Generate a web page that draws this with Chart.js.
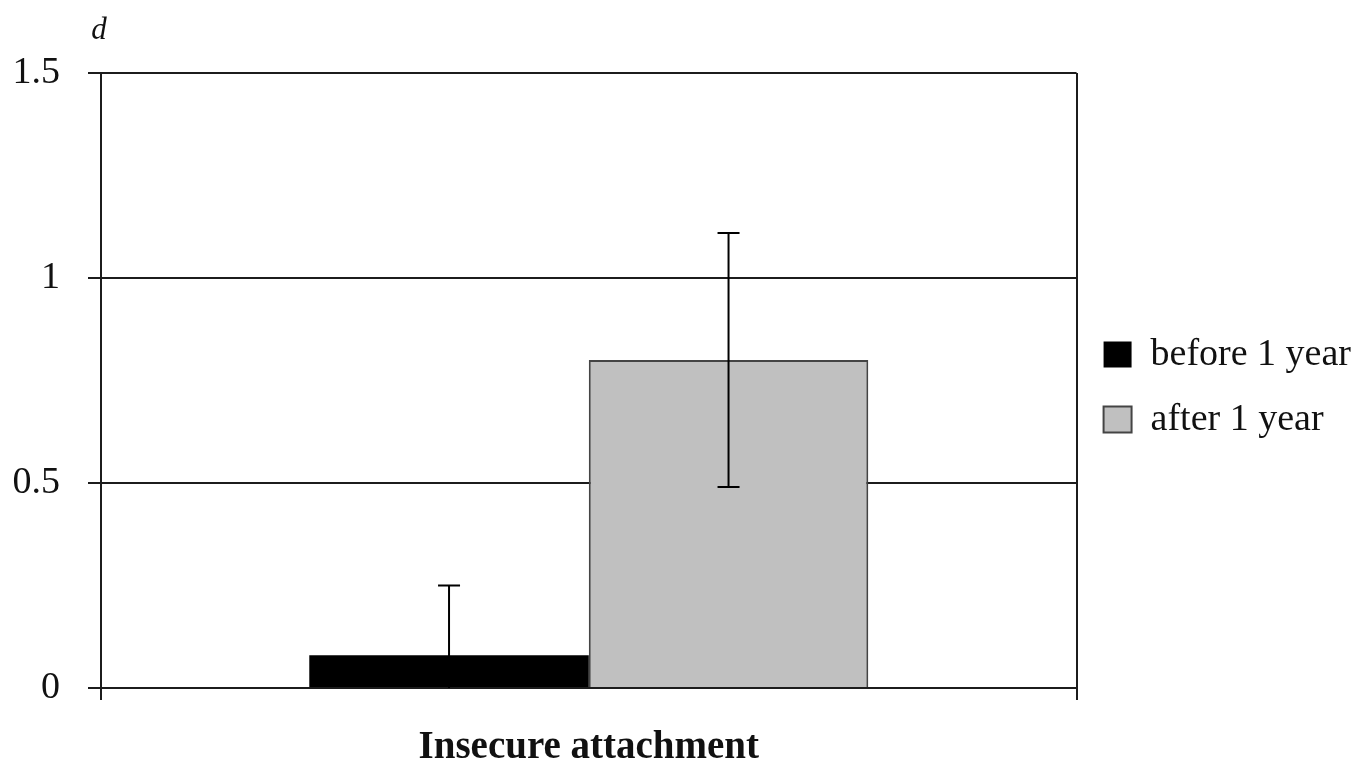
<!DOCTYPE html>
<html>
<head>
<meta charset="utf-8">
<script src="https://cdn.jsdelivr.net/npm/chart.js@4/dist/chart.umd.min.js"></script>
<style>
  html, body { margin: 0; padding: 0; background: #ffffff; }
  #wrap { width: 1369px; height: 761px; }
</style>
</head>
<body>
<div id="wrap"><canvas id="c" width="1369" height="761"></canvas></div>
<script>
// Effect sizes (d) for insecure attachment, with error margins
const categories = ['Insecure attachment'];
const seriesNames = ['before 1 year', 'after 1 year'];
const beforeValues = [0.08];
const afterValues = [0.80];
const beforeErrors = [0.17];
const afterErrors = [0.31];
const yTicks = [0, 0.5, 1, 1.5];
const yAxisTitle = 'd';

const SERIF = '"Liberation Serif", "Times New Roman", serif';
const INK = '#1c1c1c';

// Draws symmetric error bars with caps on each bar, clipped to the plot area
const errorBarPlugin = {
  id: 'errorBars',
  afterDatasetsDraw(chart) {
    const { ctx, chartArea } = chart;
    const yScale = chart.scales.y;
    ctx.save();
    ctx.beginPath();
    ctx.rect(chartArea.left, chartArea.top, chartArea.right - chartArea.left, chartArea.bottom - chartArea.top);
    ctx.clip();
    ctx.strokeStyle = '#000000';
    ctx.lineWidth = 2;
    chart.data.datasets.forEach((ds, di) => {
      const meta = chart.getDatasetMeta(di);
      meta.data.forEach((bar, i) => {
        const v = ds.data[i];
        const e = ds.errors[i];
        const x = bar.x;
        const yHi = yScale.getPixelForValue(v + e);
        const yLo = yScale.getPixelForValue(v - e);
        const cap = 11;
        ctx.beginPath();
        ctx.moveTo(x, yHi); ctx.lineTo(x, yLo);
        ctx.moveTo(x - cap, yHi); ctx.lineTo(x + cap, yHi);
        ctx.moveTo(x - cap, yLo); ctx.lineTo(x + cap, yLo);
        ctx.stroke();
      });
    });
    ctx.restore();
  }
};

// Italic "d" above the value axis
const axisTitlePlugin = {
  id: 'axisTitle',
  afterDraw(chart) {
    const { ctx, chartArea } = chart;
    ctx.save();
    ctx.font = 'italic 31px ' + SERIF;
    ctx.fillStyle = '#111';
    ctx.textAlign = 'center';
    ctx.textBaseline = 'middle';
    ctx.fillText(yAxisTitle, chartArea.left - 2, chartArea.top - 42);
    ctx.restore();
  }
};

new Chart(document.getElementById('c'), {
  type: 'bar',
  data: {
    labels: categories,
    datasets: [
      {
        label: seriesNames[0],
        data: beforeValues,
        errors: beforeErrors,
        backgroundColor: '#000000',
        borderColor: '#000000',
        borderWidth: 0
      },
      {
        label: seriesNames[1],
        data: afterValues,
        errors: afterErrors,
        backgroundColor: '#c0c0c0',
        borderColor: '#444444',
        borderWidth: 2
      }
    ]
  },
  options: {
    responsive: false,
    animation: false,
    layout: { padding: { left: 0, top: 73, right: 8, bottom: 0 } },
    datasets: {
      bar: { categoryPercentage: 0.573, barPercentage: 1.0 }
    },
    scales: {
      x: {
        offset: true,
        afterFit(scale) { scale.height = 73; },
        grid: {
          offset: true,
          drawOnChartArea: true,
          color: INK,
          lineWidth: 2,
          tickLength: 12
        },
        border: { display: true, color: INK, width: 2 },
        ticks: {
          color: '#111',
          padding: 25,
          font: { family: SERIF, size: 39, weight: 'bold' }
        }
      },
      y: {
        min: 0,
        max: 1.5,
        afterFit(scale) { scale.width = 101; },
        afterBuildTicks(scale) {
          scale.ticks = yTicks.map(v => ({ value: v }));
        },
        grid: {
          color: INK,
          lineWidth: 2,
          tickLength: 13
        },
        border: { display: true, color: INK, width: 2 },
        ticks: {
          color: '#111',
          padding: 28,
          font: { family: SERIF, size: 38 },
          callback: v => String(v)
        }
      }
    },
    plugins: {
      legend: {
        position: 'right',
        fullSize: false,
        title: { display: true, text: '', font: { size: 1 }, padding: { top: 6, bottom: 6 } },
        labels: {
          color: '#111',
          boxWidth: 28,
          boxHeight: 26,
          padding: 27,
          font: { family: SERIF, size: 38 }
        }
      },
      tooltip: { enabled: false },
      title: { display: false }
    }
  },
  plugins: [errorBarPlugin, axisTitlePlugin]
});
</script>
</body>
</html>
